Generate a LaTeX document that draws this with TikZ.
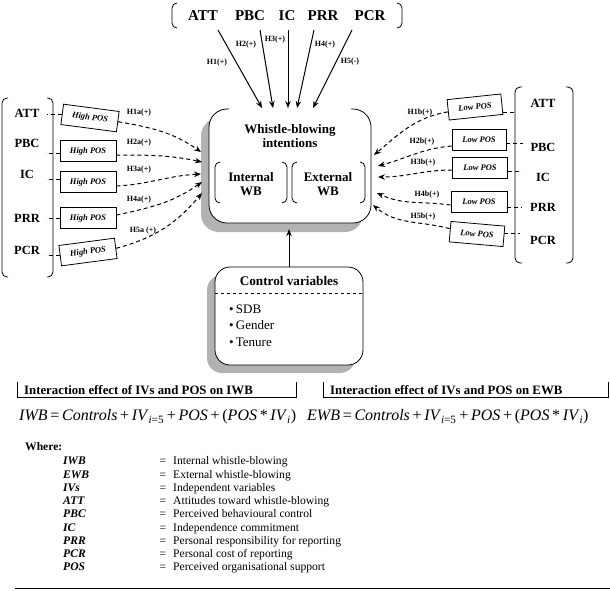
\documentclass[tikz,border=0pt]{standalone}
\usepackage{fontspec}
\setmainfont{Liberation Serif}
\usetikzlibrary{arrows.meta,calc}
\newcommand\tightsp{\spaceskip=0.17em\relax}
\begin{document}
\begin{tikzpicture}[x=1pt,y=-1pt,
 big/.style={font=\fontsize{15}{15}\selectfont\bfseries, inner sep=0pt},
 grp/.style={font=\fontsize{12.5}{12.5}\selectfont\bfseries, inner sep=0pt},
 mid/.style={font=\fontsize{13}{14}\selectfont\bfseries, inner sep=0pt, align=center},
 hyp/.style={font=\fontsize{8}{8}\selectfont\bfseries, inner sep=0pt},
 posbox/.style={draw, line width=0.8pt, minimum width=56pt, minimum height=20.5pt, inner sep=0pt, font=\fontsize{8.5}{8.5}\selectfont\bfseries\itshape},
 solidarrow/.style={line width=1pt, -{Stealth[length=7pt,width=5.5pt]}},
 dasharrow/.style={line width=1pt, dash pattern=on 4pt off 3pt, -{Stealth[length=7pt,width=5.5pt]}},
 dashline/.style={line width=1pt, dash pattern=on 4pt off 3pt},
 brk/.style={line width=0.8pt, rounded corners=5pt},
 shadowfill/.style={fill=black!30, draw=none},
 head/.style={font=\fontsize{12.8}{12.8}\selectfont\bfseries, inner sep=0pt, anchor=west},
 formula/.style={font=\fontsize{16}{16}\selectfont, inner sep=0pt, anchor=west},
 lst/.style={font=\fontsize{11.6}{11.6}\selectfont, inner sep=0pt, anchor=west, text height=8pt, text depth=2.5pt},
]
\useasboundingbox (0,0) rectangle (610,590);

% ---------- top group ----------
\draw[brk] (177,3) -- (172,3) -- (172,28) -- (177,28);
\draw[brk] (397,3) -- (402,3) -- (402,28) -- (397,28);
\node[big] (tATT) at (203,16) {ATT};
\node[big] (tPBC) at (250,16) {PBC};
\node[big] (tIC)  at (287,16) {IC};
\node[big] (tPRR) at (323,16) {PRR};
\node[big] (tPCR) at (370,16) {PCR};
\coordinate (s1) at (218,30); \coordinate (e1) at (262,108);
\coordinate (s2) at (260,30); \coordinate (e2) at (273,108);
\coordinate (s3) at (288,30); \coordinate (e3) at (288,108);
\coordinate (s4) at (314,30); \coordinate (e4) at (297,108);
\coordinate (s5) at (352,30); \coordinate (e5) at (313,108);
\foreach \i in {1,...,5} {\draw[solidarrow] (s\i) -- (e\i);}
\node[hyp] (h1) at (217,63) {H1(+)};
\node[hyp] (h2) at (246,45) {H2(+)};
\node[hyp] (h3) at (275,40) {H3(+)};
\node[hyp] (h4) at (325,45) {H4(+)};
\node[hyp] (h5) at (350,62) {H5(-)};

% ---------- main box ----------
\fill[shadowfill, rounded corners=18pt] (201,118) rectangle (363,232);
\node[fill=white, inner sep=0pt, minimum width=162pt, minimum height=114pt, rounded corners=18pt] (main) at (290,166) {};
\draw[line width=0.8pt, rounded corners=18pt] (229,109) -- (209,109) -- (209,223) -- (371,223) -- (371,109) -- (351,109);
\node[mid] (title) at (290,136) {Whistle-blowing\\intentions};
\node[mid] (iwb) at (251,184) {Internal\\WB};
\node[mid] (ewb) at (328,184) {External\\WB};
\draw[brk] (220,162) -- (215,162) -- (215,203) -- (220,203);
\draw[brk] (282,162) -- (287,162) -- (287,203) -- (282,203);
\draw[brk] (297,162) -- (292,162) -- (292,203) -- (297,203);
\draw[brk] (360,162) -- (365,162) -- (365,203) -- (360,203);

% ---------- control box ----------
\fill[shadowfill, rounded corners=15pt] (207,275) rectangle (355,373);
\node[draw, line width=0.8pt, fill=white, rounded corners=15pt, minimum width=148pt, minimum height=98pt, inner sep=0pt] (ctrl) at (289,316) {};
\draw[dashed, line width=0.6pt] (215,293) -- (363,293);
\node[font=\fontsize{13.2}{13.2}\selectfont\bfseries, inner sep=0pt] (ctitle) at (289,281) {Control variables};
\node[lst, font=\fontsize{13}{13}\selectfont] (c1) at (229,311) {\textbullet\,SDB};
\node[lst, font=\fontsize{13}{13}\selectfont] (c2) at (229,327) {\textbullet\,Gender};
\node[lst, font=\fontsize{13}{13}\selectfont] (c3) at (229,344) {\textbullet\,Tenure};
\draw[solidarrow] (ctrl.north) -- ($(ctrl.north |- main.south)+(0,6)$);

% ---------- left group ----------
\draw[brk] (8,98) -- (2,98) -- (2,277) -- (8,277);
\draw[brk] (47,98) -- (53,98) -- (53,277) -- (47,277);
\node[grp] (lATT) at (27,113) {ATT};
\node[grp] (lPBC) at (27,143) {PBC};
\node[grp] (lIC)  at (27,174) {IC};
\node[grp] (lPRR) at (27,218) {PRR};
\node[grp] (lPCR) at (27,250) {PCR};
\node[posbox, rotate=-7.5] (hp1) at (90,118) {High POS};
\node[posbox] (hp2) at (88,151) {High POS};
\node[posbox] (hp3) at (88,182) {High POS};
\node[posbox] (hp4) at (88,218) {High POS};
\node[posbox, rotate=7.5] (hp5) at (88,252) {High POS};
\draw[dashline] (hp1.west) -- ++(-15,0);
\draw[dashline] ([yshift=-2pt]hp2.west) -- ++(-14,0);
\draw[dashline] ([yshift=3pt]hp3.west) -- ++(-14,0);
\draw[dashline] (hp4.west) -- ++(-14,0);
\draw[dashline] (hp5.west) -- ++(-14,0);
\coordinate (ta1) at (201,152);
\coordinate (ta2) at (202,162);
\coordinate (ta3) at (201,174);
\coordinate (ta4) at (202,182);
\coordinate (ta5) at (202,193);
\draw[dasharrow] (hp1.east) to[out=-10,in=145] (ta1);
\draw[dasharrow] ([yshift=-4pt]hp2.east) to[out=0,in=168] (ta2);
\draw[dasharrow] ([yshift=-4pt]hp3.east) to[out=3,in=183] (ta3);
\draw[dasharrow] ([yshift=3pt]hp4.east) to[out=12,in=-145] (ta4);
\draw[dasharrow] (hp5.east) to[out=15,in=-130] (ta5);
\node[hyp] (l1) at (139,113) {H1a(+)};
\node[hyp] (l2) at (139,143) {H2a(+)};
\node[hyp] (l3) at (139,170) {H3a(+)};
\node[hyp] (l4) at (139,200) {H4a(+)};
\node[hyp] (l5) at (143,231) {H5a (+)};

% ---------- right group ----------
\draw[brk] (522,87) -- (515,87) -- (515,263) -- (522,263);
\draw[brk] (566,87) -- (573,87) -- (573,263) -- (566,263);
\node[grp] (rATT) at (543,103) {ATT};
\node[grp] (rPBC) at (543,147) {PBC};
\node[grp] (rIC)  at (543,177) {IC};
\node[grp] (rPRR) at (543,207) {PRR};
\node[grp] (rPCR) at (543,240) {PCR};
\node[posbox, minimum width=54pt, rotate=6] (lp1) at (475,107) {Low POS};
\node[posbox, minimum width=54pt] (lp2) at (479,140) {Low POS};
\node[posbox, minimum width=55pt] (lp3) at (480,168) {Low POS};
\node[posbox, minimum width=56pt] (lp4) at (479,202) {Low POS};
\node[posbox, minimum width=54pt, rotate=-5] (lp5) at (477,234) {Low POS};
\draw[dashline] ($(lp1.east)!0.75!(lp1.south east)$) -- ++(13,0);
\draw[dashline] ([yshift=-3pt]lp2.east) -- ++(17,0);
\draw[dashline] ([yshift=-3pt]lp3.east) -- ++(14,0);
\draw[dashline] ([yshift=-5pt]lp4.east) -- ++(15,0);
\draw[dashline] ([yshift=3pt]lp5.east) -- ++(16,0);
\coordinate (tb1) at (374,155);
\coordinate (tb2) at (378,166);
\coordinate (tb3) at (378,177);
\coordinate (tb4) at (377,193);
\coordinate (tb5) at (373,205);
\draw[dasharrow] ([yshift=-2pt]lp1.west) to[out=190,in=40] (tb1);
\draw[dasharrow] ([yshift=-6pt]lp2.west) to[out=185,in=15] (tb2);
\draw[dasharrow] ([yshift=-2pt]lp3.west) to[out=180,in=0] (tb3);
\draw[dasharrow] ([yshift=-3pt]lp4.west) to[out=172,in=-25] (tb4);
\draw[dasharrow] ([yshift=3pt]lp5.west) to[out=165,in=-40] (tb5);
\node[hyp] (r1) at (420,113) {H1b(+)};
\node[hyp] (r2) at (422,142) {H2b(+)};
\node[hyp] (r3) at (423,163) {H3b(+)};
\node[hyp] (r4) at (427,195) {H4b(+)};
\node[hyp] (r5) at (423,217) {H5b(+)};

% ---------- interaction headings ----------
\draw[line width=0.6pt] (17.5,382) -- (17.5,397) -- (296,397) -- (296,382);
\draw[line width=0.6pt] (323,382) -- (323,397) -- (608,397) -- (608,382);
\node[head] (hd1) at (24,390) {Interaction effect of IVs and POS on IWB};
\node[head] (hd2) at (330,390) {Interaction effect of IVs and POS on EWB};
\node[formula] (f1) at (19,417) {\tightsp\textit{IWB} = \textit{Controls} + \textit{IV}\textsubscript{\textit{i}=5} + \textit{POS} + (\textit{POS} * \textit{IV}\textsubscript{\textit{i}})};
\node[formula] (f2) at (307,417) {\tightsp\textit{EWB} = \textit{Controls} + \textit{IV}\textsubscript{\textit{i}=5} + \textit{POS} + (\textit{POS} * \textit{IV}\textsubscript{\textit{i}})};

% ---------- legend ----------
\node[lst, font=\fontsize{11.6}{11.6}\selectfont\bfseries] (where) at (25,448) {Where:};
\foreach \ab/\df [count=\k from 0] in {IWB/Internal whistle-blowing, EWB/External whistle-blowing, IVs/Independent variables, ATT/Attitudes toward whistle-blowing, PBC/Perceived behavioural control, IC/Independence commitment, PRR/Personal responsibility for reporting, PCR/Personal cost of reporting, POS/Perceived organisational support} {
  \node[lst, font=\fontsize{11.6}{11.6}\selectfont\bfseries\itshape] (ab\k) at (63,{462+13.25*\k}) {\ab};
  \node[lst, anchor=center] (eq\k) at (163,{462+13.25*\k}) {=};
  \node[lst] (df\k) at (173,{462+13.25*\k}) {\df};
}
\draw[line width=1pt] (15,588) -- (610,588);
\end{tikzpicture}
\end{document}
